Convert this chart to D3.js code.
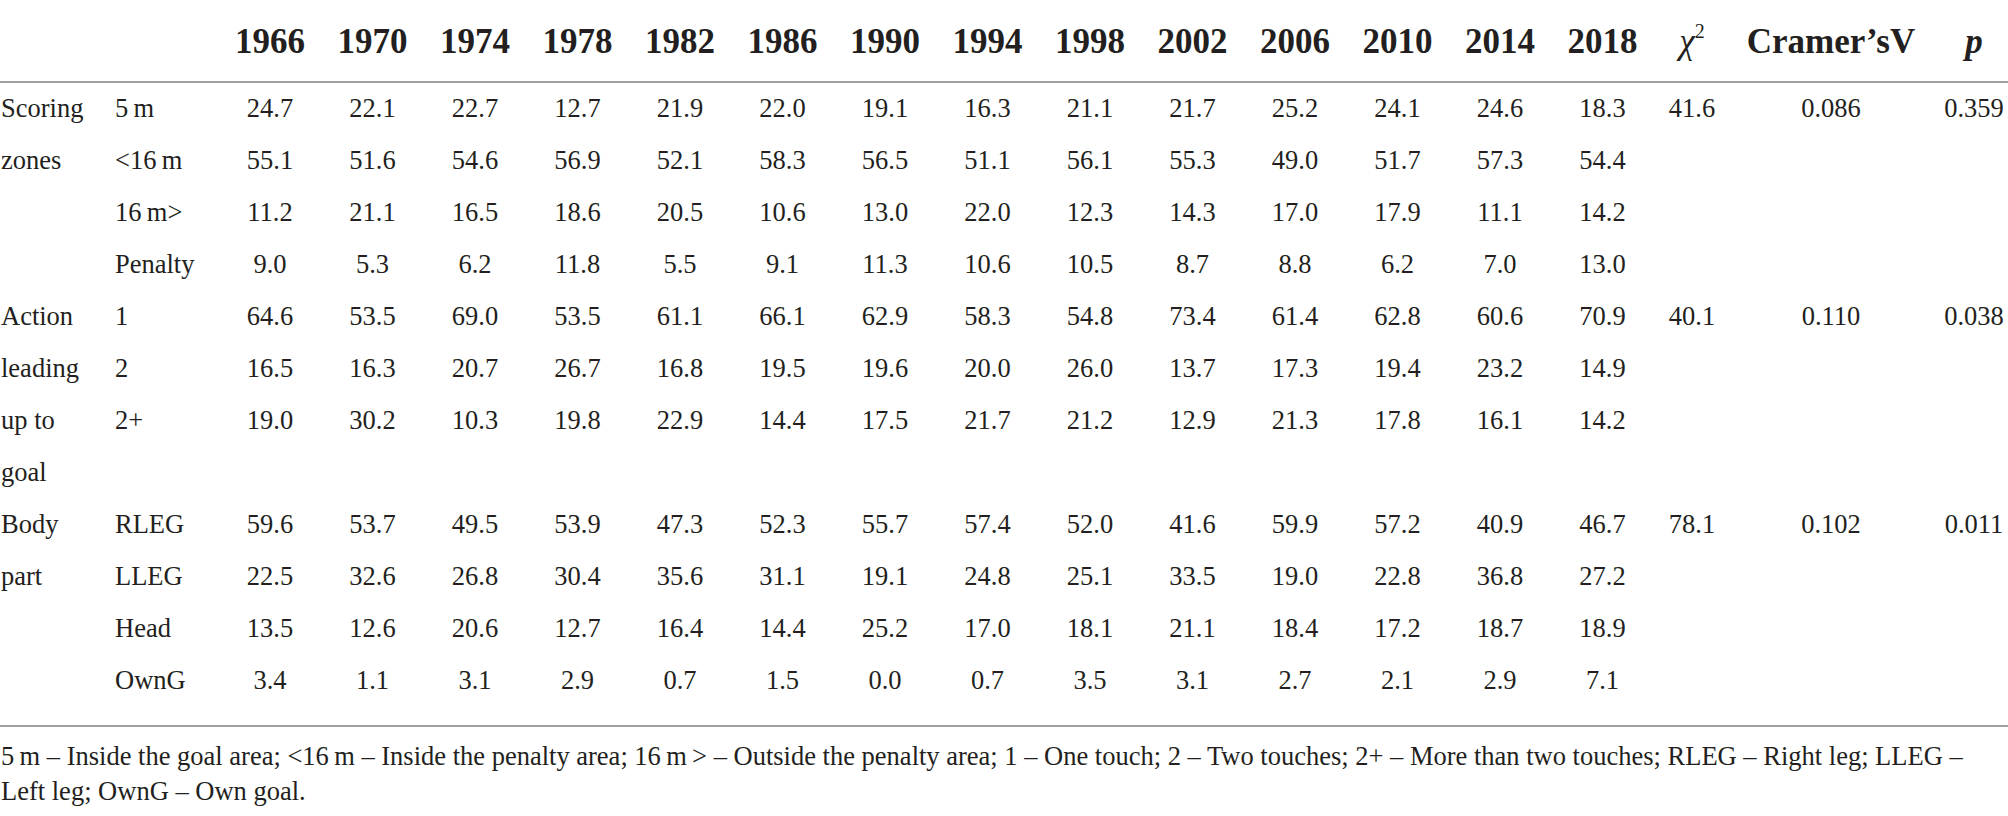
<!DOCTYPE html>
<html>
<head>
<meta charset="utf-8">
<script src="https://cdn.jsdelivr.net/npm/d3@7"></script>
<style>
  body { margin: 0; background: #fff; }
  svg text { font-family: "Liberation Serif", "Times New Roman", serif; fill: #231f20; }
</style>
</head>
<body>
<svg id="table"></svg>
<script>
// column headers
const years = [1966, 1970, 1974, 1978, 1982, 1986, 1990, 1994, 1998, 2002, 2006, 2010, 2014, 2018];

// row labels (group label shown on the left, sub label in second column)
const groupLabels = ['Scoring', 'zones', '', '', 'Action', 'leading', 'up to', 'goal', 'Body', 'part', '', ''];
const subLabels = ['5\u2009m', '<16\u2009m', '16\u2009m>', 'Penalty', '1', '2', '2+', '', 'RLEG', 'LLEG', 'Head', 'OwnG'];

// percentages per world cup
const fiveM   = [24.7, 22.1, 22.7, 12.7, 21.9, 22.0, 19.1, 16.3, 21.1, 21.7, 25.2, 24.1, 24.6, 18.3];
const lt16m   = [55.1, 51.6, 54.6, 56.9, 52.1, 58.3, 56.5, 51.1, 56.1, 55.3, 49.0, 51.7, 57.3, 54.4];
const gt16m   = [11.2, 21.1, 16.5, 18.6, 20.5, 10.6, 13.0, 22.0, 12.3, 14.3, 17.0, 17.9, 11.1, 14.2];
const penalty = [9.0, 5.3, 6.2, 11.8, 5.5, 9.1, 11.3, 10.6, 10.5, 8.7, 8.8, 6.2, 7.0, 13.0];
const touch1  = [64.6, 53.5, 69.0, 53.5, 61.1, 66.1, 62.9, 58.3, 54.8, 73.4, 61.4, 62.8, 60.6, 70.9];
const touch2  = [16.5, 16.3, 20.7, 26.7, 16.8, 19.5, 19.6, 20.0, 26.0, 13.7, 17.3, 19.4, 23.2, 14.9];
const touch2p = [19.0, 30.2, 10.3, 19.8, 22.9, 14.4, 17.5, 21.7, 21.2, 12.9, 21.3, 17.8, 16.1, 14.2];
const rleg    = [59.6, 53.7, 49.5, 53.9, 47.3, 52.3, 55.7, 57.4, 52.0, 41.6, 59.9, 57.2, 40.9, 46.7];
const lleg    = [22.5, 32.6, 26.8, 30.4, 35.6, 31.1, 19.1, 24.8, 25.1, 33.5, 19.0, 22.8, 36.8, 27.2];
const head    = [13.5, 12.6, 20.6, 12.7, 16.4, 14.4, 25.2, 17.0, 18.1, 21.1, 18.4, 17.2, 18.7, 18.9];
const ownGoal = [3.4, 1.1, 3.1, 2.9, 0.7, 1.5, 0.0, 0.7, 3.5, 3.1, 2.7, 2.1, 2.9, 7.1];

// test statistics, one per block (row index where they are printed)
const statRows = [0, 4, 8];
const chiSq    = [41.6, 40.1, 78.1];
const cramersV = [0.086, 0.110, 0.102];
const pValues  = [0.359, 0.038, 0.011];

const footnotes = [
  '5\u2009m \u2013 Inside the goal area; <16\u2009m \u2013 Inside the penalty area; 16\u2009m\u2009> \u2013 Outside the penalty area; 1 \u2013 One touch; 2 \u2013 Two touches; 2+ \u2013 More than two touches; RLEG \u2013 Right leg; LLEG \u2013',
  'Left leg; OwnG \u2013 Own goal.'
];

const rowValues = [fiveM, lt16m, gt16m, penalty, touch1, touch2, touch2p, null, rleg, lleg, head, ownGoal];

const width = 2008, height = 816;
const svg = d3.select('#table').attr('width', width).attr('height', height);

// scales
const x = d3.scalePoint().domain(years).range([270, 1602.5]);
const xStat = d3.scaleOrdinal().domain(['chi', 'v', 'p']).range([1692, 1831, 1974]);
const y = d3.scaleLinear().domain([0, rowValues.length - 1]).range([117, 689]);

const headY = 53;
const bodySize = 26.5, headSize = 35;
const fmt1 = d3.format('.1f'), fmt3 = d3.format('.3f');

// header
svg.append('g').selectAll('text')
  .data(years)
  .join('text')
  .attr('x', d => x(d))
  .attr('y', headY)
  .attr('text-anchor', 'middle')
  .attr('font-size', headSize)
  .attr('font-weight', 'bold')
  .text(d => d);

const chiHead = svg.append('text')
  .attr('x', xStat('chi'))
  .attr('y', headY)
  .attr('text-anchor', 'middle')
  .attr('font-size', headSize)
  .attr('font-style', 'italic');
chiHead.append('tspan').text('\u03c7');
chiHead.append('tspan').attr('font-size', 20).attr('font-style', 'normal').attr('dy', -15).text('2');

svg.append('text')
  .attr('x', xStat('v'))
  .attr('y', headY)
  .attr('text-anchor', 'middle')
  .attr('font-size', headSize)
  .attr('font-weight', 'bold')
  .text('Cramer\u2019sV');

svg.append('text')
  .attr('x', xStat('p'))
  .attr('y', headY)
  .attr('text-anchor', 'middle')
  .attr('font-size', headSize)
  .attr('font-weight', 'bold')
  .attr('font-style', 'italic')
  .text('p');

// rules
svg.append('line')
  .attr('x1', 0).attr('x2', width)
  .attr('y1', 82).attr('y2', 82)
  .attr('stroke', '#a0a0a0').attr('stroke-width', 2);
svg.append('line')
  .attr('x1', 0).attr('x2', width)
  .attr('y1', 726).attr('y2', 726)
  .attr('stroke', '#a0a0a0').attr('stroke-width', 2);

// row labels
svg.append('g').selectAll('text')
  .data(groupLabels)
  .join('text')
  .attr('x', 1)
  .attr('y', (d, i) => y(i))
  .attr('font-size', bodySize)
  .text(d => d);

svg.append('g').selectAll('text')
  .data(subLabels)
  .join('text')
  .attr('x', 115)
  .attr('y', (d, i) => y(i))
  .attr('font-size', bodySize)
  .text(d => d);

// body cells
const cells = [];
rowValues.forEach((vals, r) => {
  if (!vals) return;
  vals.forEach((v, c) => cells.push({ row: r, year: years[c], value: v }));
});

svg.append('g').selectAll('text')
  .data(cells)
  .join('text')
  .attr('x', d => x(d.year))
  .attr('y', d => y(d.row))
  .attr('text-anchor', 'middle')
  .attr('font-size', bodySize)
  .text(d => fmt1(d.value));

// statistics
const stats = statRows.map((r, i) => ({ row: r, chi: chiSq[i], v: cramersV[i], p: pValues[i] }));
const statG = svg.append('g');
['chi', 'v', 'p'].forEach(k => {
  statG.selectAll('text.' + k)
    .data(stats)
    .join('text')
    .attr('class', k)
    .attr('x', xStat(k))
    .attr('y', d => y(d.row))
    .attr('text-anchor', 'middle')
    .attr('font-size', bodySize)
    .text(d => k === 'chi' ? fmt1(d[k]) : fmt3(d[k]));
});

// footnote
svg.append('g').selectAll('text')
  .data(footnotes)
  .join('text')
  .attr('x', 1)
  .attr('y', (d, i) => 765 + i * 35)
  .attr('font-size', bodySize)
  .text(d => d);
</script>
</body>
</html>
